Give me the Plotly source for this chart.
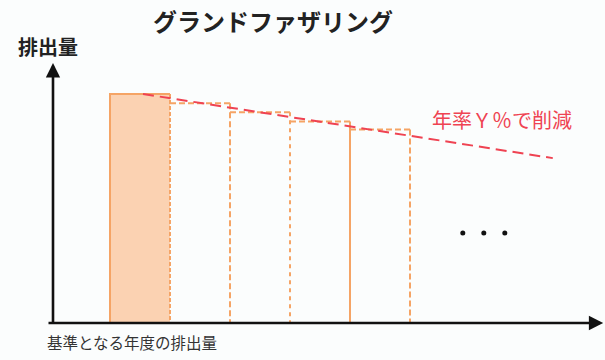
import plotly.graph_objects as go

# ---- data ----
bar_index = [0, 1, 2, 3, 4]
bar_values = [100, 96, 92, 88, 84.5]          # emission level (baseline = 100)
edge_dash = ["4px,2px", "6px,3px", "4px,4px", "solid", "6px,3px"]
trend_x = [0.05, 6.88]
trend_y = [100, 72]
dots_x = [5.38, 5.73, 6.08]
dots_y = [39.3, 39.3, 39.3]
title_text = "グランドファザリング"
y_label = "排出量"
x_label = "基準となる年度の排出量"
trend_label = "年率Ｙ％で削減"

ORANGE = "#f5a465"
FILL = "#fbd2b2"
RED = "#ef4352"
FONT = "Noto Sans CJK JP"

fig = go.Figure()

# baseline (filled) bar
fig.add_trace(go.Bar(x=[bar_index[0]], y=[bar_values[0]], width=1,
                     marker=dict(color=FILL, line=dict(width=0)),
                     hoverinfo="skip"))
# left solid edge + top of baseline bar
fig.add_trace(go.Scatter(x=[bar_index[0] - 0.5, bar_index[0] - 0.5, bar_index[0] + 0.5],
                         y=[0, bar_values[0], bar_values[0]], mode="lines",
                         line=dict(color=ORANGE, width=2), hoverinfo="skip"))
# right edge of baseline bar
fig.add_trace(go.Scatter(x=[bar_index[0] + 0.5, bar_index[0] + 0.5],
                         y=[bar_values[0], 0], mode="lines",
                         line=dict(color=ORANGE, width=2, dash=edge_dash[0]),
                         hoverinfo="skip"))
# projected (outlined, dashed) bars
for i, v, d in zip(bar_index[1:], bar_values[1:], edge_dash[1:]):
    fig.add_trace(go.Scatter(x=[i - 0.5, i + 0.5], y=[v, v], mode="lines",
                             line=dict(color=ORANGE, width=2, dash="6px,3px"),
                             hoverinfo="skip"))
    fig.add_trace(go.Scatter(x=[i + 0.5, i + 0.5], y=[v, 0], mode="lines",
                             line=dict(color=ORANGE, width=2, dash=d),
                             hoverinfo="skip"))

# trend line
fig.add_trace(go.Scatter(x=trend_x, y=trend_y, mode="lines",
                         line=dict(color=RED, width=2, dash="11px,6px"),
                         hoverinfo="skip"))
# ellipsis dots
fig.add_trace(go.Scatter(x=dots_x, y=dots_y, mode="markers",
                         marker=dict(color="#111111", size=5), hoverinfo="skip"))

# axes arrows
x0 = -1.45
fig.add_annotation(x=x0, y=113.5, ax=x0, ay=-0.6, xref="x", yref="y",
                   axref="x", ayref="y", showarrow=True, arrowhead=2,
                   arrowsize=1.1, arrowwidth=2.6, arrowcolor="#111111", text="")
fig.add_annotation(x=7.72, y=0, ax=-1.55, ay=0, xref="x", yref="y",
                   axref="x", ayref="y", showarrow=True, arrowhead=2,
                   arrowsize=1.1, arrowwidth=2.6, arrowcolor="#111111", text="")

# texts
def label(px, py, text, size, color, xanchor="center"):
    fig.add_annotation(x=px / 605, y=1 - py / 360, xref="paper", yref="paper",
                       xanchor=xanchor, yanchor="middle", text=text,
                       showarrow=False, font=dict(family=FONT, size=size, color=color))

label(273, 20, f"<b>{title_text}</b>", 24, "#222222")
label(48, 47, f"<b>{y_label}</b>", 20, "#222222")
label(45, 342, x_label, 15.5, "#333333", xanchor="left")
label(502, 120, trend_label, 20, RED)

fig.update_layout(
    width=605, height=360, margin=dict(l=0, r=0, t=0, b=0),
    paper_bgcolor="#fbfdfd", plot_bgcolor="#fbfdfd", showlegend=False,
    xaxis=dict(range=[-140 / 60, 465 / 60], visible=False, fixedrange=True),
    yaxis=dict(range=[-37 / 2.29, 323 / 2.29], visible=False, fixedrange=True),
    bargap=0,
)

fig.write_html("out.html", config={"displayModeBar": False})
